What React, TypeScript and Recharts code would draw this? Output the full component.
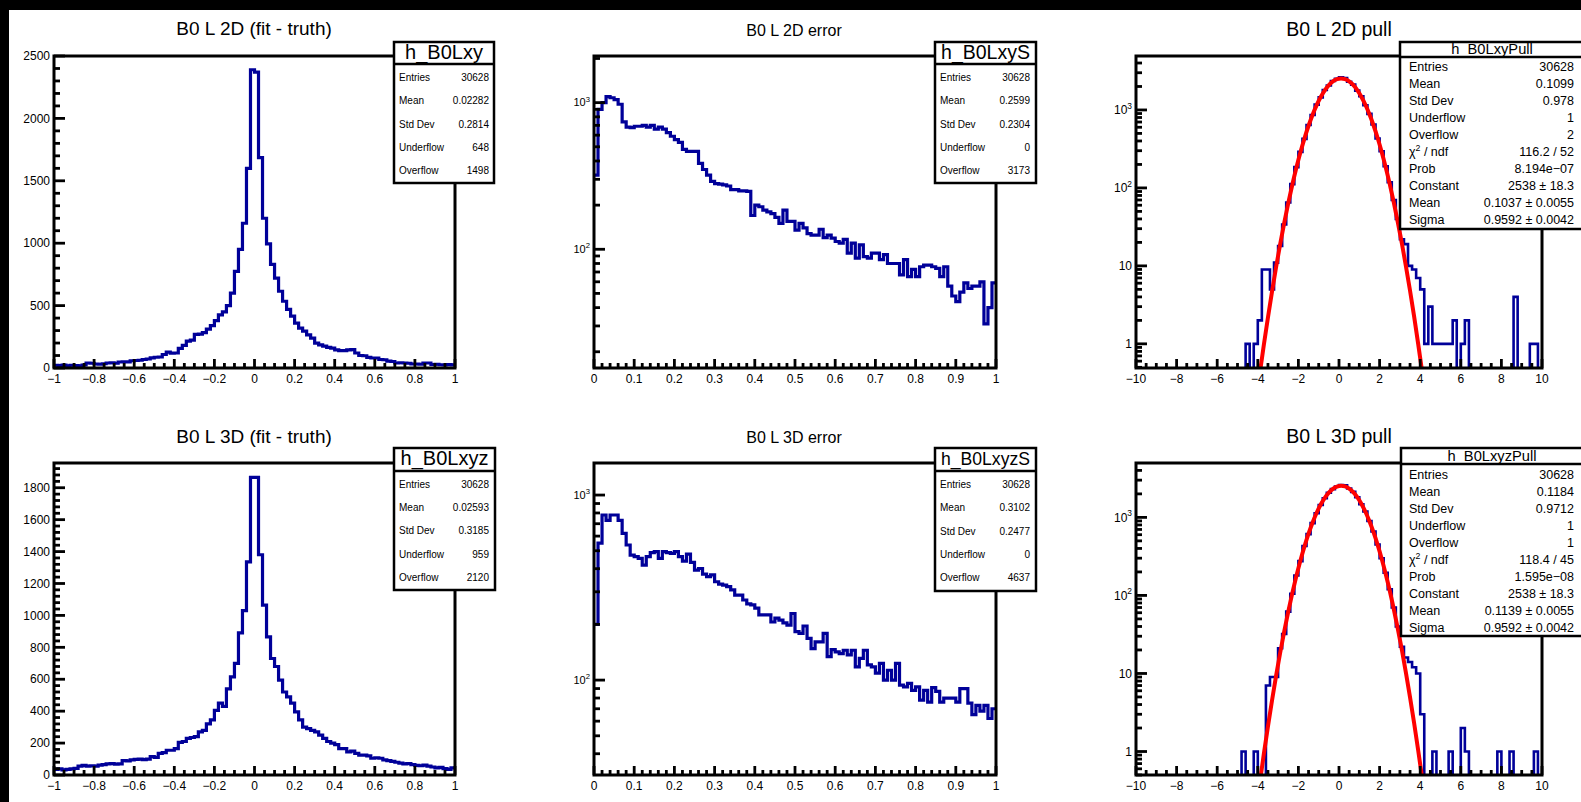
import { LineChart, Line, XAxis, YAxis } from 'recharts'

const FONT = '"Liberation Sans", Arial, Helvetica, sans-serif'
const INK = '#000'
const HIST_BLUE = '#000099'
const FIT_RED = '#ff0000'

const RESID_RANGE: [number, number] = [-1, 1]
const ERROR_RANGE: [number, number] = [0, 1]
const PULL_RANGE: [number, number] = [-10, 10]

// bin contents, 100 equal bins over each range
const LXY_RESID = [
  22, 20, 24, 18, 22, 20, 18, 24, 40, 38,
  32, 30, 34, 40, 42, 38, 48, 50, 49, 58,
  60, 62, 68, 72, 81, 86, 88, 108, 127, 119,
  120, 157, 181, 216, 224, 270, 272, 284, 311, 340,
  380, 425, 450, 500, 600, 775, 950, 1160, 1600, 2390,
  2370, 1685, 1200, 995, 830, 720, 615, 535, 470, 415,
  360, 320, 295, 265, 240, 200, 185, 175, 165, 160,
  145, 140, 140, 145, 148, 120, 100, 98, 85, 80,
  80, 68, 66, 55, 52, 40, 42, 40, 38, 32,
  32, 30, 40, 40, 28, 30, 26, 25, 28, 25,
]

const LXYZ_RESID = [
  35, 38, 32, 35, 38, 42, 55, 60, 55, 58,
  55, 62, 65, 70, 72, 68, 70, 90, 88, 95,
  98, 100, 96, 100, 115, 110, 135, 140, 155, 155,
  165, 205, 210, 230, 235, 240, 270, 280, 320, 345,
  405, 450, 430, 540, 615, 700, 890, 1030, 1335, 1865,
  1865, 1380, 1065, 865, 730, 680, 595, 520, 490, 450,
  395, 345, 300, 290, 280, 270, 250, 230, 210, 200,
  190, 165, 165, 145, 150, 135, 125, 125, 120, 105,
  108, 105, 95, 90, 85, 80, 75, 70, 72, 65,
  60, 58, 62, 55, 50, 45, 48, 40, 35, 45,
]

const LXY_ERR = [
  320, 900, 1000, 1100, 1080, 1050, 975, 740, 680, 675,
  690, 690, 700, 680, 700, 660, 680, 660, 625, 590,
  560, 535, 480, 465, 465, 465, 385, 350, 320, 290,
  280, 278, 275, 270, 255, 255, 250, 250, 248, 170,
  200, 195, 185, 180, 175, 165, 150, 185, 155, 155,
  135, 150, 140, 128, 125, 125, 137, 120, 125, 119,
  113, 110, 117, 94, 110, 87, 107, 89, 87, 94,
  94, 85, 92, 80, 80, 80, 67, 85, 65, 73,
  65, 76, 78, 78, 76, 74, 65, 76, 56, 48,
  44, 51, 59, 54, 56, 56, 60, 31, 40, 59,
]

const LXYZ_ERR = [
  200, 550, 780, 730, 780, 780, 730, 620, 537, 474,
  465, 455, 418, 465, 488, 494, 455, 494, 488, 484,
  494, 465, 440, 480, 433, 393, 401, 374, 362, 370,
  340, 330, 326, 320, 307, 288, 288, 271, 258, 255,
  245, 225, 225, 225, 206, 216, 211, 204, 198, 229,
  183, 179, 196, 168, 148, 161, 161, 179, 134, 146,
  142, 139, 145, 137, 145, 118, 131, 145, 121, 118,
  109, 123, 100, 113, 100, 123, 94, 92, 96, 88,
  92, 78, 88, 76, 91, 87, 76, 80, 80, 80,
  76, 90, 90, 75, 65, 73, 68, 73, 62, 70,
]

const LXY_PULL = [
  0, 0, 0, 0, 0, 0, 0, 0, 0, 0,
  0, 0, 0, 0, 0, 0, 0, 0, 0, 0,
  0, 0, 0, 0, 0, 0, 0, 1, 0, 1,
  2, 9, 9, 5, 11, 18, 34, 65, 112, 185,
  290, 425, 640, 860, 1170, 1450, 1800, 2060, 2350, 2510,
  2620, 2560, 2300, 2110, 1770, 1500, 1150, 890, 650, 430,
  295, 190, 118, 70, 40, 22, 19, 10, 9, 7,
  5, 1, 3, 1, 1, 1, 1, 1, 2, 0,
  1, 2, 0, 0, 0, 0, 0, 0, 0, 0,
  0, 0, 0, 4, 0, 0, 0, 1, 1, 0,
]

const LXYZ_PULL = [
  0, 0, 0, 0, 0, 0, 0, 0, 0, 0,
  0, 0, 0, 0, 0, 0, 0, 0, 0, 0,
  0, 0, 0, 0, 0, 0, 1, 0, 0, 1,
  0, 0, 7, 9, 9, 21, 32, 62, 105, 180,
  275, 430, 610, 845, 1130, 1440, 1760, 2070, 2300, 2490,
  2600, 2580, 2340, 2120, 1810, 1470, 1190, 900, 660, 450,
  300, 195, 120, 70, 40, 22, 16, 14, 12, 10,
  3, 0, 0, 1, 0, 0, 0, 1, 0, 0,
  2, 1, 0, 0, 0, 0, 0, 0, 0, 1,
  0, 0, 1, 0, 0, 0, 0, 0, 1, 0,
]

// gaussian fit curves
const FIT_X = [
  -4.1, -3.9, -3.7, -3.5, -3.3, -3.1, -2.9, -2.7, -2.5, -2.3, -2.1,
  -1.9, -1.7, -1.5, -1.3, -1.1, -0.9, -0.7, -0.5, -0.3, -0.1,
  0.1, 0.3, 0.5, 0.7, 0.9, 1.1, 1.3, 1.5, 1.7, 1.9,
  2.1, 2.3, 2.5, 2.7, 2.9, 3.1, 3.3, 3.5, 3.7, 3.9, 4.1, 4.3,
]
const LXY_PULL_FIT = [
  0.17, 0.42, 0.98, 2.18, 4.68, 9.6, 18.9, 35.4, 63.8, 109.8, 181,
  286, 433, 627, 870, 1155, 1468, 1787, 2082, 2323, 2481,
  2538, 2485, 2330, 2092, 1798, 1480, 1166, 880, 636, 440,
  291, 184, 112, 65, 36, 19.3, 9.8, 4.8, 2.25, 1.0, 0.43, 0.18,
]
const LXYZ_PULL_FIT = [
  0.16, 0.4, 0.94, 2.1, 4.5, 9.3, 18.3, 34.4, 62.1, 107, 177,
  281, 426, 619, 861, 1146, 1460, 1781, 2078, 2321, 2481,
  2538, 2490, 2337, 2104, 1813, 1495, 1181, 893, 646, 448,
  297, 188, 115, 66.5, 37, 19.9, 10.1, 4.95, 2.32, 1.04, 0.45, 0.19,
]

const RESID_X_LABELS = [-1, -0.8, -0.6, -0.4, -0.2, 0, 0.2, 0.4, 0.6, 0.8, 1]
const ERROR_X_LABELS = [0, 0.1, 0.2, 0.3, 0.4, 0.5, 0.6, 0.7, 0.8, 0.9, 1]
const PULL_X_LABELS = [-10, -8, -6, -4, -2, 0, 2, 4, 6, 8, 10]
const LXY_RESID_Y_LABELS = [0, 500, 1000, 1500, 2000, 2500]
const LXYZ_RESID_Y_LABELS = [0, 200, 400, 600, 800, 1000, 1200, 1400, 1600, 1800]
const ERROR_Y_LABELS = [100, 1000]
const PULL_Y_LABELS = [1, 10, 100, 1000]

type Row = [string, string]

const LXY_STATS: Row[] = [
  ['Entries', '30628'], ['Mean', '0.02282'], ['Std Dev', '0.2814'], ['Underflow', '648'], ['Overflow', '1498'],
]
const LXY_ERR_STATS: Row[] = [
  ['Entries', '30628'], ['Mean', '0.2599'], ['Std Dev', '0.2304'], ['Underflow', '0'], ['Overflow', '3173'],
]
const LXY_PULL_STATS: Row[] = [
  ['Entries', '30628'], ['Mean', '0.1099'], ['Std Dev', '0.978'], ['Underflow', '1'], ['Overflow', '2'],
  ['CHI2', '116.2 / 52'], ['Prob', '8.194e\u221207'], ['Constant', '2538 \u00b1 18.3'],
  ['Mean', '0.1037 \u00b1 0.0055'], ['Sigma', '0.9592 \u00b1 0.0042'],
]
const LXYZ_STATS: Row[] = [
  ['Entries', '30628'], ['Mean', '0.02593'], ['Std Dev', '0.3185'], ['Underflow', '959'], ['Overflow', '2120'],
]
const LXYZ_ERR_STATS: Row[] = [
  ['Entries', '30628'], ['Mean', '0.3102'], ['Std Dev', '0.2477'], ['Underflow', '0'], ['Overflow', '4637'],
]
const LXYZ_PULL_STATS: Row[] = [
  ['Entries', '30628'], ['Mean', '0.1184'], ['Std Dev', '0.9712'], ['Underflow', '1'], ['Overflow', '1'],
  ['CHI2', '118.4 / 45'], ['Prob', '1.595e\u221208'], ['Constant', '2538 \u00b1 18.3'],
  ['Mean', '0.1139 \u00b1 0.0055'], ['Sigma', '0.9592 \u00b1 0.0042'],
]

interface Box {
  x: number; y: number; w: number; h: number; divider: number
  name: string; nameSize: number; nameX: number; nameY: number
  rows: Row[]; rowSize: number; rowY0: number; rowStep: number
  labelX: number; valueX: number
}

interface Panel {
  id: string
  title: string; titleSize: number; titleX: number; titleY: number
  x: number; y: number; w: number; h: number
  counts: number[]; range: [number, number]
  log: boolean; yDomain: [number, number]
  xLabels: number[]; xMinor: number
  yLabels: number[]; yMinor: number
  yLabelSize: number
  lineWidth: number
  fit?: number[]
  box: Box
}

const PANELS: Panel[] = [
  {
    id: 'lxy', title: 'B0 L 2D (fit - truth)', titleSize: 19, titleX: 254, titleY: 35,
    x: 54, y: 56, w: 401, h: 312,
    counts: LXY_RESID, range: RESID_RANGE, log: false, yDomain: [0, 2500],
    xLabels: RESID_X_LABELS, xMinor: 0.05, yLabels: LXY_RESID_Y_LABELS, yMinor: 100,
    yLabelSize: 12, lineWidth: 3.2,
    box: {
      x: 394, y: 42, w: 100, h: 141, divider: 64, name: 'h_B0Lxy', nameSize: 20, nameX: 444, nameY: 58.5,
      rows: LXY_STATS, rowSize: 10, rowY0: 77.3, rowStep: 23.35, labelX: 399, valueX: 489,
    },
  },
  {
    id: 'lxyS', title: 'B0 L 2D error', titleSize: 16, titleX: 794, titleY: 35.5,
    x: 594, y: 56, w: 402, h: 312,
    counts: LXY_ERR, range: ERROR_RANGE, log: true, yDomain: [15.5, 2080],
    xLabels: ERROR_X_LABELS, xMinor: 0.02, yLabels: ERROR_Y_LABELS, yMinor: 0,
    yLabelSize: 11, lineWidth: 3.2,
    box: {
      x: 935, y: 42, w: 101, h: 141, divider: 64, name: 'h_B0LxyS', nameSize: 19.5, nameX: 985.5, nameY: 58.5,
      rows: LXY_ERR_STATS, rowSize: 10, rowY0: 77.3, rowStep: 23.35, labelX: 940, valueX: 1030,
    },
  },
  {
    id: 'lxyPull', title: 'B0 L 2D pull', titleSize: 19.5, titleX: 1339, titleY: 36,
    x: 1136, y: 56, w: 406, h: 312,
    counts: LXY_PULL, range: PULL_RANGE, log: true, yDomain: [0.49, 4920],
    xLabels: PULL_X_LABELS, xMinor: 0.5, yLabels: PULL_Y_LABELS, yMinor: 0,
    yLabelSize: 12, lineWidth: 2.6, fit: LXY_PULL_FIT,
    box: {
      x: 1400, y: 42, w: 200, h: 187, divider: 57, name: 'h_B0LxyPull', nameSize: 14.7, nameX: 1492, nameY: 54,
      rows: LXY_PULL_STATS, rowSize: 12.5, rowY0: 66.7, rowStep: 17.03, labelX: 1409, valueX: 1574,
    },
  },
  {
    id: 'lxyz', title: 'B0 L 3D (fit - truth)', titleSize: 19, titleX: 254, titleY: 443,
    x: 54, y: 463, w: 401, h: 312,
    counts: LXYZ_RESID, range: RESID_RANGE, log: false, yDomain: [0, 1955],
    xLabels: RESID_X_LABELS, xMinor: 0.05, yLabels: LXYZ_RESID_Y_LABELS, yMinor: 40,
    yLabelSize: 12, lineWidth: 3.2,
    box: {
      x: 394, y: 448, w: 101, h: 142, divider: 471, name: 'h_B0Lxyz', nameSize: 20, nameX: 444.5, nameY: 465,
      rows: LXYZ_STATS, rowSize: 10, rowY0: 484, rowStep: 23.4, labelX: 399, valueX: 489,
    },
  },
  {
    id: 'lxyzS', title: 'B0 L 3D error', titleSize: 16, titleX: 794, titleY: 443,
    x: 594, y: 463, w: 402, h: 312,
    counts: LXYZ_ERR, range: ERROR_RANGE, log: true, yDomain: [30.7, 1490],
    xLabels: ERROR_X_LABELS, xMinor: 0.02, yLabels: ERROR_Y_LABELS, yMinor: 0,
    yLabelSize: 11, lineWidth: 3.2,
    box: {
      x: 935, y: 448, w: 101, h: 143, divider: 471, name: 'h_B0LxyzS', nameSize: 17.6, nameX: 985.5, nameY: 465,
      rows: LXYZ_ERR_STATS, rowSize: 10, rowY0: 484.3, rowStep: 23.35, labelX: 940, valueX: 1030,
    },
  },
  {
    id: 'lxyzPull', title: 'B0 L 3D pull', titleSize: 19.5, titleX: 1339, titleY: 443,
    x: 1136, y: 463, w: 406, h: 312,
    counts: LXYZ_PULL, range: PULL_RANGE, log: true, yDomain: [0.5, 4975],
    xLabels: PULL_X_LABELS, xMinor: 0.5, yLabels: PULL_Y_LABELS, yMinor: 0,
    yLabelSize: 12, lineWidth: 2.6, fit: LXYZ_PULL_FIT,
    box: {
      x: 1401, y: 448, w: 200, h: 188, divider: 464, name: 'h_B0LxyzPull', nameSize: 14.7, nameX: 1492, nameY: 460.5,
      rows: LXYZ_PULL_STATS, rowSize: 12.5, rowY0: 475, rowStep: 16.97, labelX: 1409, valueX: 1574,
    },
  },
]

// chart padding around the frame: y axis on the left, x axis below
const PAD_L = 50
const PAD_T = 10
const PAD_R = 10
const PAD_B = 30

function histTable(counts: number[], [lo, hi]: [number, number], log: boolean) {
  const w = (hi - lo) / counts.length
  // empty bins sit below the log floor so the clip hides them, like ROOT does
  const rows = counts.map((c, i) => ({ x: +(lo + i * w).toFixed(6), y: log && c <= 0 ? 1e-3 : c }))
  rows.push({ x: hi, y: rows[rows.length - 1].y })
  return rows
}

function isMajor(v: number, majors: number[]) {
  return majors.some((m) => Math.abs(m - v) <= 1e-9 * Math.max(1, Math.abs(m)))
}

function linearTicks(majors: number[], step: number, [lo, hi]: [number, number]) {
  const out = [...majors]
  const k0 = Math.ceil(lo / step - 1e-9)
  const k1 = Math.floor(hi / step + 1e-9)
  for (let k = k0; k <= k1; k++) {
    const v = +(k * step).toFixed(6)
    if (!isMajor(v, majors)) out.push(v)
  }
  return out.sort((a, b) => a - b)
}

function logTicks([lo, hi]: [number, number]) {
  const out: number[] = []
  for (let e = Math.floor(Math.log10(lo)); e <= Math.ceil(Math.log10(hi)); e++) {
    for (let m = 1; m <= 9; m++) {
      const v = +(m * Math.pow(10, e)).toPrecision(6)
      if (v >= lo && v <= hi) out.push(v)
    }
  }
  return out
}

function xLabel(v: number) {
  const s = String(Math.abs(+v.toFixed(2)))
  return v < 0 ? '\u2212' + s : s
}

function yLabel(v: number, log: boolean, size: number) {
  if (!log || v < 100) return String(v)
  const e = Math.round(Math.log10(v))
  return (
    <>
      10
      <tspan dy={-size * 0.45} fontSize={size * 0.7}>{e}</tspan>
    </>
  )
}

function HistPanel({ p }: { p: Panel }) {
  const bottom = PAD_T + p.h
  const rows = histTable(p.counts, p.range, p.log)
  const fitRows = p.fit ? FIT_X.map((x, i) => ({ x, y: p.fit![i] })) : null
  const xTicks = linearTicks(p.xLabels, p.xMinor, p.range)
  const yTicks = p.log ? logTicks(p.yDomain) : linearTicks(p.yLabels, p.yMinor, p.yDomain)

  const renderXTick = (props: any) => {
    const v = props.payload.value
    const x = props.x
    const major = isMajor(v, p.xLabels)
    return (
      <g>
        <line x1={x} x2={x} y1={bottom} y2={bottom - (major ? 9 : 5)} stroke={INK} strokeWidth={2.8} />
        {major && (
          <text x={x} y={bottom + 14.5} textAnchor="middle" fontSize={12} fontFamily={FONT} fill={INK}>
            {xLabel(v)}
          </text>
        )}
      </g>
    )
  }

  const renderYTick = (props: any) => {
    const v = props.payload.value
    const y = props.y
    const major = isMajor(v, p.log ? [0.01, 0.1, 1, 10, 100, 1000, 10000] : p.yLabels)
    const labelled = isMajor(v, p.yLabels)
    return (
      <g>
        <line x1={PAD_L} x2={PAD_L + (major ? 11 : 6)} y1={y} y2={y} stroke={INK} strokeWidth={2.8} />
        {labelled && (
          <text
            x={PAD_L - 4}
            y={y + p.yLabelSize * 0.35}
            textAnchor="end"
            fontSize={p.yLabelSize}
            fontFamily={FONT}
            fill={INK}
          >
            {yLabel(v, p.log, p.yLabelSize)}
          </text>
        )}
      </g>
    )
  }

  return (
    <div style={{ position: 'absolute', left: p.x - PAD_L, top: p.y - PAD_T }}>
      <LineChart
        width={p.w + PAD_L + PAD_R}
        height={p.h + PAD_T + PAD_B}
        margin={{ top: PAD_T, right: PAD_R, bottom: 0, left: 0 }}
      >
        <XAxis
          type="number"
          dataKey="x"
          domain={p.range}
          allowDataOverflow
          ticks={xTicks}
          interval={0}
          height={PAD_B}
          axisLine={false}
          tickLine={false}
          tickSize={0}
          tick={renderXTick}
        />
        <YAxis
          type="number"
          scale={p.log ? 'log' : 'linear'}
          domain={p.yDomain}
          allowDataOverflow
          ticks={yTicks}
          interval={0}
          width={PAD_L}
          axisLine={false}
          tickLine={false}
          tickSize={0}
          tick={renderYTick}
        />
        <Line
          data={rows}
          dataKey="y"
          type="stepAfter"
          stroke={HIST_BLUE}
          strokeWidth={p.lineWidth}
          dot={false}
          activeDot={false}
          isAnimationActive={false}
        />
        {fitRows && (
          <Line
            data={fitRows}
            dataKey="y"
            type="monotone"
            stroke={FIT_RED}
            strokeWidth={4}
            dot={false}
            activeDot={false}
            isAnimationActive={false}
          />
        )}
      </LineChart>
    </div>
  )
}

function RowLabel({ label, size }: { label: string; size: number }) {
  if (label !== 'CHI2') return <>{label}</>
  return (
    <>
      {'\u03c7'}
      <tspan dy={-size * 0.4} fontSize={size * 0.7}>2</tspan>
      <tspan dy={size * 0.4}>{' / ndf'}</tspan>
    </>
  )
}

function StatsBox({ b }: { b: Box }) {
  return (
    <g>
      <rect x={b.x} y={b.y} width={b.w} height={b.h} fill="#fff" stroke={INK} strokeWidth={2.5} />
      <line x1={b.x} x2={b.x + b.w} y1={b.divider} y2={b.divider} stroke={INK} strokeWidth={2.5} />
      <text x={b.nameX} y={b.nameY} textAnchor="middle" fontSize={b.nameSize} fill={INK}>
        {b.name}
      </text>
      {b.rows.map(([label, value], i) => {
        const y = b.rowY0 + i * b.rowStep + b.rowSize * 0.35
        return (
          <g key={label + i}>
            <text x={b.labelX} y={y} fontSize={b.rowSize} fill={INK}>
              <RowLabel label={label} size={b.rowSize} />
            </text>
            <text x={b.valueX} y={y} textAnchor="end" fontSize={b.rowSize} fill={INK}>
              {value}
            </text>
          </g>
        )
      })}
    </g>
  )
}

function Overlay() {
  return (
    <svg
      width={1581}
      height={802}
      style={{ position: 'absolute', left: 0, top: 0, pointerEvents: 'none' }}
      fontFamily={FONT}
    >
      {PANELS.map((p) => (
        <g key={p.id}>
          <rect x={p.x} y={p.y} width={p.w} height={p.h} fill="none" stroke={INK} strokeWidth={3} />
          <text x={p.titleX} y={p.titleY} textAnchor="middle" fontSize={p.titleSize} fill={INK}>
            {p.title}
          </text>
          <StatsBox b={p.box} />
        </g>
      ))}
    </svg>
  )
}

export default function App() {
  return (
    <div
      style={{
        position: 'fixed',
        left: 0,
        top: 0,
        width: 1581,
        height: 802,
        background: '#000',
        overflow: 'hidden',
        fontFamily: FONT,
      }}
    >
      <div style={{ position: 'absolute', left: 9, top: 10, width: 1572, height: 792, background: '#fff' }} />
      {PANELS.map((p) => (
        <HistPanel key={p.id} p={p} />
      ))}
      <Overlay />
    </div>
  )
}
